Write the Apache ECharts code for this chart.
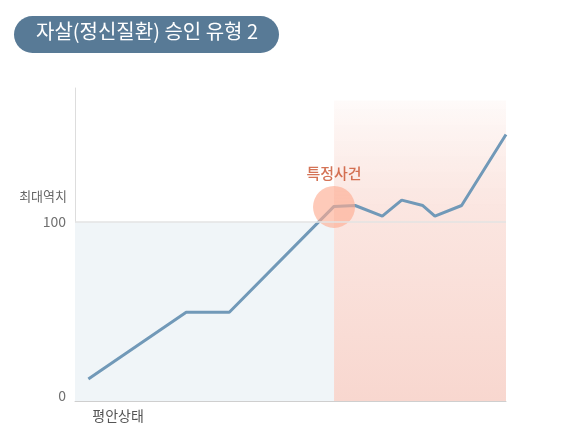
<!DOCTYPE html>
<html>
<head>
<meta charset="utf-8">
<script src="https://cdn.jsdelivr.net/npm/echarts@6/dist/echarts.min.js"></script>
<style>
  html, body { margin: 0; padding: 0; background: #fff; }
  #chart { width: 567px; height: 445px; }
</style>
</head>
<body>
<div id="chart"></div>
<script>
// 자살(정신질환) 승인 유형 2
var titleText = '자살(정신질환) 승인 유형 2';
var xValues = [3.1, 25.8, 35.8, 60.1, 65.0, 71.3, 75.8, 80.7, 83.5, 89.7, 100];
var yValues = [12.3, 49.6, 49.6, 108.8, 109.3, 103.4, 112.3, 109.3, 103.4, 109.3, 149];
var eventPoint = [60.1, 108.5];
var eventLabel = '특정사건';
var thresholdLabel = '최대역치';
var calmLabel = '평안상태';
var thresholdValue = 100;
var eventZoneTop = 168;

var font = '"Noto Sans CJK KR", "Noto Sans", sans-serif';

var chart = echarts.init(document.getElementById('chart'));
var option = {
    animation: false,
    textStyle: { fontFamily: font },
    grid: { left: 75, right: 61, top: 88, bottom: 44 },
    xAxis: {
        type: 'value',
        min: 0,
        max: 100,
        interval: 10,
        axisLine: { show: true, lineStyle: { color: '#cfcfcf', width: 1 } },
        axisTick: { show: false },
        splitLine: { show: false },
        axisLabel: {
            color: '#555',
            fontSize: 14,
            fontFamily: font,
            margin: 8,
            formatter: function(v) { return v === 10 ? calmLabel : ''; }
        }
    },
    yAxis: {
        type: 'value',
        min: 0,
        max: 175,
        interval: 100,
        axisLine: { show: true, lineStyle: { color: '#dddddd', width: 1 } },
        axisTick: { show: false },
        splitLine: { show: false },
        axisLabel: {
            color: '#707070',
            fontSize: 14,
            fontFamily: font,
            margin: 9,
            formatter: function(v) {
                if (v === 0) return '{z|0}';
                return v === thresholdValue ? String(v) : '';
            },
            rich: {
                z: { color: '#707070', fontSize: 14, fontFamily: font, padding: [0, 0, 10, 0] }
            }
        }
    },
    series: [
        {
            type: 'line',
            data: xValues.map(function(x, i) { return [x, yValues[i]]; }),
            symbol: 'none',
            lineStyle: { color: '#7199b8', width: 3 },
            z: 3,
            markLine: {
                silent: true,
                symbol: 'none',
                label: { show: false },
                lineStyle: { color: '#e3e3e3', width: 1.5, type: 'solid' },
                data: [{ yAxis: thresholdValue }]
            },
            markArea: {
                silent: true,
                data: [
                    [
                        { coord: [0, 0], itemStyle: { color: '#f0f5f8' } },
                        { coord: [eventPoint[0], thresholdValue] }
                    ],
                    [
                        {
                            coord: [eventPoint[0], 0],
                            itemStyle: {
                                color: new echarts.graphic.LinearGradient(0, 0, 0, 1, [
                                    { offset: 0, color: 'rgba(250,225,218,0.15)' },
                                    { offset: 0.35, color: '#fbe6e1' },
                                    { offset: 1, color: '#f8d7cf' }
                                ])
                            }
                        },
                        { coord: [100, eventZoneTop] }
                    ]
                ]
            }
        },
        {
            type: 'scatter',
            data: [eventPoint],
            symbolSize: 42,
            itemStyle: { color: 'rgba(253,172,145,0.8)' },
            z: 4,
            label: {
                show: true,
                position: 'top',
                distance: 5,
                formatter: eventLabel,
                color: '#c9502c',
                fontSize: 15,
                fontWeight: 500,
                fontFamily: font
            }
        }
    ],
    graphic: [
        {
            type: 'rect',
            left: 14,
            top: 16,
            shape: { width: 265, height: 37, r: 18.5 },
            style: { fill: '#587a96' }
        },
        {
            type: 'text',
            left: 36,
            top: 21,
            style: {
                text: titleText,
                fill: '#fff',
                fontSize: 20,
                fontFamily: font
            }
        },
        {
            type: 'text',
            right: 567 - 67,
            top: 190,
            style: {
                text: thresholdLabel,
                fill: '#666',
                fontSize: 13,
                fontFamily: font
            }
        }
    ]
};
chart.setOption(option);
</script>
</body>
</html>
